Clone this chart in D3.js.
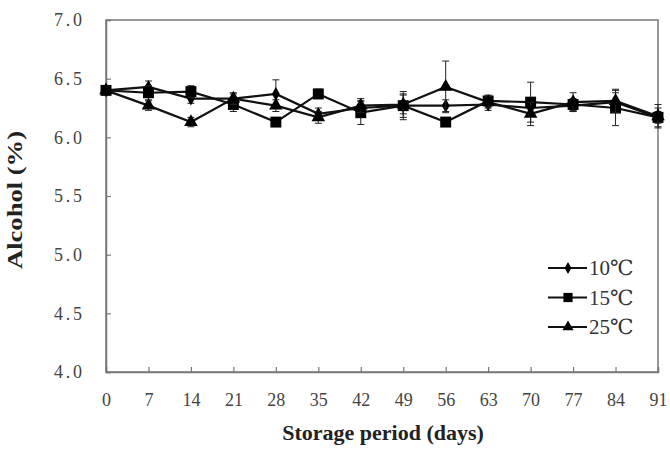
<!DOCTYPE html>
<html>
<head>
<meta charset="utf-8">
<script src="https://cdn.jsdelivr.net/npm/d3@7"></script>
<style>
  body { margin: 0; background: #fff; }
  text { font-family: "Liberation Serif", "Times New Roman", "DejaVu Serif", serif; }
</style>
</head>
<body>
<script>
let width = 670
let height = 450
const margin = { top: 20, right: 12, bottom: 78, left: 106 }

const days = [0, 7, 14, 21, 28, 35, 42, 49, 56, 63, 70, 77, 84, 91]
const yTicks = [4.0, 4.5, 5.0, 5.5, 6.0, 6.5, 7.0]

// mean alcohol (%) per storage temperature
const t10 = [6.40, 6.43, 6.33, 6.33, 6.37, 6.20, 6.25, 6.27, 6.27, 6.28, 6.25, 6.27, 6.30, 6.17]
const t15 = [6.40, 6.38, 6.39, 6.28, 6.13, 6.37, 6.21, 6.27, 6.13, 6.31, 6.30, 6.28, 6.25, 6.17]
const t25 = [6.40, 6.27, 6.13, 6.33, 6.27, 6.17, 6.27, 6.28, 6.43, 6.30, 6.20, 6.30, 6.31, 6.18]

// standard deviations
const e10 = [0.03, 0.05, 0.04, 0.04, 0.12, 0.05, 0.06, 0.10, 0.05, 0.05, 0.05, 0.05, 0.08, 0.05]
const e15 = [0.03, 0.06, 0.05, 0.06, 0.03, 0.04, 0.10, 0.12, 0.03, 0.05, 0.17, 0.05, 0.15, 0.08]
const e25 = [0.03, 0.04, 0.04, 0.05, 0.05, 0.05, 0.06, 0.08, 0.22, 0.05, 0.10, 0.08, 0.10, 0.10]

const series = [
  { name: "10\u2103", values: t10, errors: e10, symbol: d3.symbolDiamond, size: 55, lsize: 40 },
  { name: "15\u2103", values: t15, errors: e15, symbol: d3.symbolSquare, size: 120, lsize: 85 },
  { name: "25\u2103", values: t25, errors: e25, symbol: d3.symbolTriangle, size: 80, lsize: 55 }
]

const svg = d3.select("body").append("svg")
  .attr("width", width)
  .attr("height", height)

const x = d3.scaleLinear().domain([0, 91]).range([margin.left, width - margin.right])
const y = d3.scaleLinear().domain([4, 7]).range([height - margin.bottom, margin.top])

const axisColor = "#777"

// frame top/right
svg.append("rect")
  .attr("x", x(0)).attr("y", y(7))
  .attr("width", x(91) - x(0)).attr("height", y(4) - y(7))
  .attr("fill", "none").attr("stroke", axisColor).attr("stroke-width", 1.5)

// x axis, ticks pointing inward
const xAxis = svg.append("g")
  .attr("transform", `translate(0,${y(4)})`)
  .call(d3.axisBottom(x).tickValues(days).tickSize(-5).tickPadding(21).tickFormat(d3.format("d")))
xAxis.select(".domain").attr("stroke", axisColor).attr("stroke-width", 1.5)
xAxis.selectAll(".tick line").attr("stroke", axisColor).attr("stroke-width", 1.2)
xAxis.selectAll("text")
  .style("font-size", "18px").style("fill", "#444")
  .style("font-family", "'Liberation Serif', serif")

const yAxis = svg.append("g")
  .attr("transform", `translate(${x(0)},0)`)
  .call(d3.axisLeft(y).tickValues(yTicks).tickSize(-5).tickPadding(24).tickFormat(d3.format(".1f")))
yAxis.select(".domain").attr("stroke", axisColor).attr("stroke-width", 1.5)
yAxis.selectAll(".tick line").attr("stroke", axisColor).attr("stroke-width", 1.2)
yAxis.selectAll("text")
  .style("font-size", "18px").style("fill", "#444")
  .style("font-family", "'Liberation Serif', serif")
  .attr("textLength", 28).attr("lengthAdjust", "spacing")

// axis titles
svg.append("text")
  .attr("x", 383).attr("y", 440)
  .attr("text-anchor", "middle")
  .style("font-size", "22px").attr("font-weight", "bold").attr("fill", "#222")
  .text("Storage period (days)")

svg.append("text")
  .attr("transform", `translate(22,200) rotate(-90)`)
  .attr("text-anchor", "middle")
  .style("font-size", "21px").attr("font-weight", "bold").attr("fill", "#222")
  .attr("textLength", 138).attr("lengthAdjust", "spacingAndGlyphs")
  .text("Alcohol (%)")

const line = d3.line()
  .x((d, i) => x(days[i]))
  .y(d => y(d))

series.forEach(s => {
  const g = svg.append("g")
  // error bars
  s.values.forEach((v, i) => {
    const cx = x(days[i])
    g.append("line")
      .attr("x1", cx).attr("x2", cx)
      .attr("y1", y(v - s.errors[i])).attr("y2", y(v + s.errors[i]))
      .attr("stroke", "#222").attr("stroke-width", 1)
    ;[v - s.errors[i], v + s.errors[i]].forEach(e => {
      g.append("line")
        .attr("x1", cx - 3.5).attr("x2", cx + 3.5)
        .attr("y1", y(e)).attr("y2", y(e))
        .attr("stroke", "#222").attr("stroke-width", 1)
    })
  })
  g.append("path")
    .datum(s.values)
    .attr("d", line)
    .attr("fill", "none")
    .attr("stroke", "#111")
    .attr("stroke-width", 2.2)
  g.selectAll("path.pt")
    .data(s.values).enter()
    .append("path")
    .attr("class", "pt")
    .attr("transform", (d, i) => `translate(${x(days[i])},${y(d)})`)
    .attr("d", d3.symbol().type(s.symbol).size(s.size))
    .attr("fill", "#000")
})

// legend
const legend = svg.append("g")
series.forEach((s, i) => {
  const ly = 268 + i * 29.5
  legend.append("line")
    .attr("x1", 548).attr("x2", 587)
    .attr("y1", ly).attr("y2", ly)
    .attr("stroke", "#111").attr("stroke-width", 1.8)
  legend.append("path")
    .attr("transform", `translate(568,${ly})`)
    .attr("d", d3.symbol().type(s.symbol).size(s.lsize))
    .attr("fill", "#000")
  legend.append("text")
    .attr("x", 589).attr("y", ly + 7)
    .style("font-size", "21px").attr("fill", "#333")
    .text(s.name)
})
</script>
</body>
</html>
